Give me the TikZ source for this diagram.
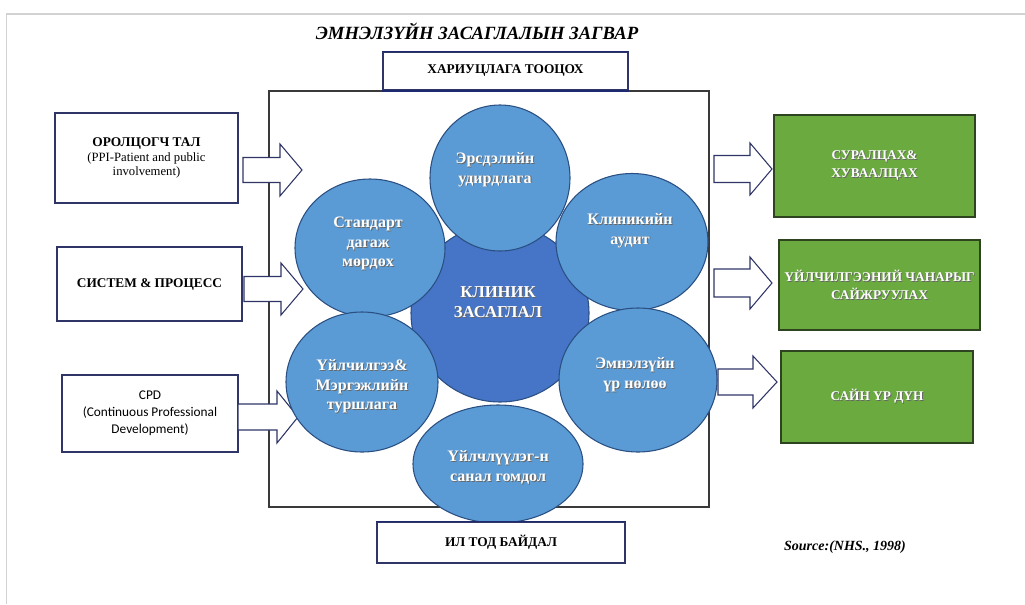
\documentclass[tikz,border=0pt]{standalone}
\usepackage{fontspec}
\setmainfont{Liberation Serif}
\newfontfamily\cpdfont{Carlito}
\usetikzlibrary{shapes.geometric}
\definecolor{petal}{HTML}{5B9BD5}
\definecolor{core}{HTML}{4674C6}
\definecolor{petaledge}{HTML}{2A4F82}
\definecolor{grn}{HTML}{6AAA3E}
\definecolor{grnedge}{HTML}{2E4420}
\definecolor{navy}{HTML}{2F3567}
\definecolor{deepnavy}{HTML}{1E2A6E}
\definecolor{frameline}{HTML}{3A3A3A}
\definecolor{pageline}{HTML}{D2D2D2}
\newcommand\shd[1]{\leavevmode\rlap{\raisebox{-0.7pt}{\hspace{0.7pt}\textcolor{black!60}{#1}}}#1}
% block arrow: start x, centre y, head base x, tip x, shaft half height, head half height
\newcommand\blkarrow[6]{%
  \draw[arrowline] (#1,#2-#5) -- (#3,#2-#5) -- (#3,#2-#6) -- (#4,#2) -- (#3,#2+#6) -- (#3,#2+#5) -- (#1,#2+#5) -- cycle;}
\begin{document}
\begin{tikzpicture}[x=0.75pt,y=-0.75pt,
  arrowline/.style={draw=navy,fill=white,line width=0.8pt,line join=miter},
  whitebox/.style={draw=navy,fill=white,line width=0.9pt,inner sep=0pt,align=center},
  greenbox/.style={draw=grnedge,fill=grn,line width=0.9pt,inner sep=0pt,align=center,text=white,font=\bfseries\fontsize{10}{13.5}\selectfont},
  petalnode/.style={ellipse,draw=petaledge,line width=0.8pt,fill=petal,inner sep=0pt},
  petaltext/.style={text=white,align=center,font=\bfseries\fontsize{12}{14.6}\selectfont,inner sep=0pt},
  capsbold/.style={font=\bfseries\fontsize{10}{12}\selectfont}
]
\useasboundingbox (0,0) rectangle (1025,604);
% page border
\draw[pageline,line width=1.1pt] (6.5,604) -- (6.5,14) -- (1025,14);

% title
\node (title) at (477,31) {\bfseries\itshape\fontsize{14}{16}\selectfont ЭМНЭЛЗҮЙН ЗАСАГЛАЛЫН ЗАГВАР};

% main frame
\node (frame) [draw=frameline,line width=0.9pt,minimum width=330pt,minimum height=312pt,inner sep=0pt] at (489,299) {};

% top box
\node (acc) [whitebox,capsbold,minimum width=183.75pt,minimum height=28.5pt] at (505.5,71) {ХАРИУЦЛАГА ТООЦОХ};
\draw[deepnavy,line width=1.5pt] (acc.south west) -- (acc.south east);
\draw[deepnavy,line width=1pt] (acc.north west) -- (acc.north east);

% left boxes
\node (ppi) [whitebox,minimum width=137.25pt,minimum height=67.5pt] at (146.5,158)
  {{\bfseries\fontsize{10}{10}\selectfont ОРОЛЦОГЧ ТАЛ}\\[-1pt]
   {\fontsize{9.5}{10}\selectfont (PPI-Patient and public}\\[-1pt]
   {\fontsize{9.5}{10}\selectfont involvement)}};
\node (sys) [whitebox,capsbold,minimum width=138.75pt,minimum height=55.5pt] at (149.5,284) {СИСТЕМ \& ПРОЦЕСС};
\node (cpd) [whitebox,minimum width=132pt,minimum height=57.75pt,font=\cpdfont\fontsize{10}{12.75}\selectfont] at (150,413.5)
  {CPD\\(Continuous Professional\\Development)};

% left arrows
\blkarrow{243}{170}{280}{302}{12.5}{26}
\blkarrow{244}{289}{281}{303}{12.5}{26}
\blkarrow{238}{417}{277}{298}{13}{26}

% right arrows
\blkarrow{714}{169}{750}{772}{13.5}{26}
\blkarrow{714}{283}{750}{772}{14}{26}
\blkarrow{718}{382}{753}{777}{13}{26}

% green boxes
\node (learn) [greenbox,minimum width=150.75pt,minimum height=76.5pt] at (874.5,166) {\shd{СУРАЛЦАХ\&}\\\shd{ХУВААЛЦАХ}};
\node (qual) [greenbox,minimum width=150.75pt,minimum height=67.5pt] at (879.5,285) {\shd{ҮЙЛЧИЛГЭЭНИЙ ЧАНАРЫГ}\\\shd{САЙЖРУУЛАХ}};
\node (good) [greenbox,minimum width=144pt,minimum height=69pt] at (877,397) {\shd{САЙН ҮР ДҮН}};

% circles
\node (core) [ellipse,draw=petaledge,line width=0.8pt,fill=core,minimum width=133.5pt,minimum height=133.5pt,inner sep=0pt] at (500,313) {};
\node (std) [petalnode,minimum width=112.5pt,minimum height=103.5pt] at (370,248) {};
\node (exp) [petalnode,minimum width=114pt,minimum height=105pt] at (362,382) {};
\node (risk) [petalnode,minimum width=105pt,minimum height=109.5pt] at (500,178) {};
\node (audit) [petalnode,minimum width=114pt,minimum height=102.75pt] at (632,242) {};
\node (eff) [petalnode,minimum width=118.5pt,minimum height=108pt] at (638,380) {};
\node (fb) [petalnode,minimum width=127.5pt,minimum height=88.5pt] at (498,464) {};

\node (coret) [petaltext,font=\bfseries\fontsize{12.5}{15}\selectfont] at (498,303) {\shd{КЛИНИК}\\\shd{ЗАСАГЛАЛ}};
\node (riskt) [petaltext] at (495,170) {\shd{Эрсдэлийн}\\\shd{удирдлага}};
\node (stdt) [petaltext] at (368,244) {\shd{Стандарт}\\\shd{дагаж}\\\shd{мөрдөх}};
\node (auditt) [petaltext] at (630,231) {\shd{Клиникийн}\\\shd{аудит}};
\node (expt) [petaltext] at (362,387) {\shd{Үйлчилгээ\&}\\\shd{Мэргэжлийн}\\\shd{туршлага}};
\node (efft) [petaltext] at (635,375) {\shd{Эмнэлзүйн}\\\shd{үр нөлөө}};
\node (fbt) [petaltext] at (498,468) {\shd{Үйлчлүүлэг-н}\\\shd{санал гомдол}};

% bottom box
\node (trans) [whitebox,capsbold,minimum width=186pt,minimum height=30.75pt] at (501,542.5) {ИЛ ТОД БАЙДАЛ};
\draw[deepnavy,line width=1.3pt] (trans.north west) -- (trans.north east);

% source
\node (src) at (845,547) {\bfseries\itshape\fontsize{10.5}{12}\selectfont Source:(NHS., 1998)};
\end{tikzpicture}
\end{document}
